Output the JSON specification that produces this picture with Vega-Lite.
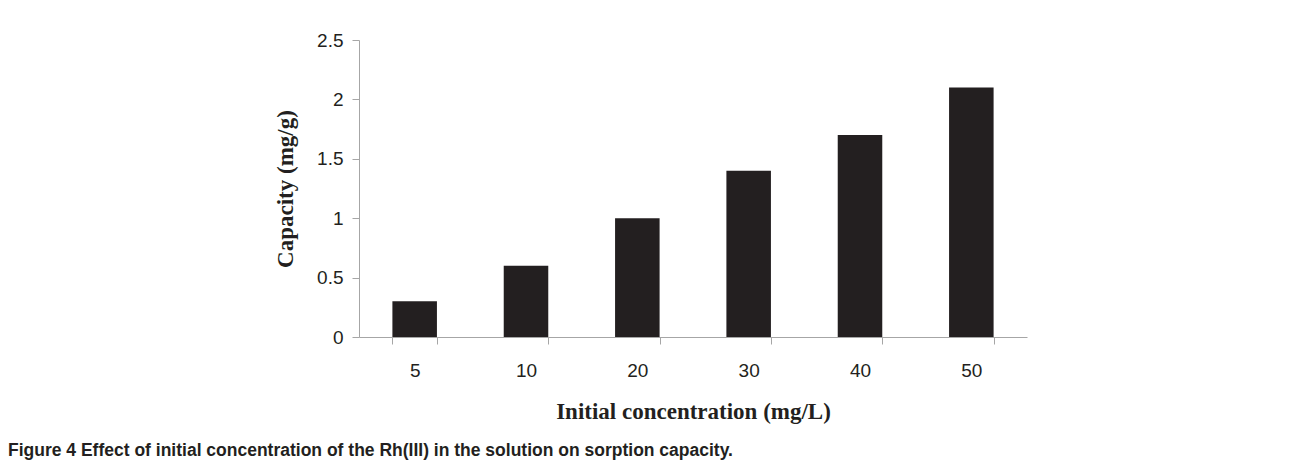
{
  "$schema": "https://vega.github.io/schema/vega-lite/v6.json",
  "autosize": {"type": "none"},
  "padding": {"left": 359, "top": 40, "right": 263, "bottom": 131},
  "width": 668,
  "height": 297,
  "background": "white",
  "data": {
    "values": [
      {"conc": "5", "capacity": 0.3},
      {"conc": "10", "capacity": 0.6},
      {"conc": "20", "capacity": 1.0},
      {"conc": "30", "capacity": 1.4},
      {"conc": "40", "capacity": 1.7},
      {"conc": "50", "capacity": 2.1}
    ]
  },
  "title": {
    "text": "Figure 4 Effect of initial concentration of the Rh(III) in the solution on sorption capacity.",
    "orient": "bottom",
    "anchor": "start",
    "frame": "group",
    "dx": -351,
    "offset": 19,
    "font": "Liberation Sans",
    "fontSize": 17.5,
    "fontWeight": "bold",
    "color": "#231f20"
  },
  "mark": {"type": "bar", "color": "#231f20"},
  "encoding": {
    "x": {
      "field": "conc",
      "type": "ordinal",
      "sort": null,
      "scale": {"paddingInner": 0.6, "paddingOuter": 0.3},
      "axis": {
        "title": "Initial concentration (mg/L)",
        "labelAngle": 0,
        "tickBand": "extent",
        "tickSize": 7,
        "labelPadding": 17,
        "titlePadding": 20,
        "domainColor": "#a6a6a6",
        "tickColor": "#a6a6a6",
        "labelColor": "#231f20",
        "labelFont": "Liberation Sans",
        "labelFontSize": 19,
        "titleFont": "Liberation Serif",
        "titleFontSize": 23,
        "titleFontWeight": "bold",
        "titleColor": "#231f20"
      }
    },
    "y": {
      "field": "capacity",
      "type": "quantitative",
      "scale": {"domain": [0, 2.5], "nice": false},
      "axis": {
        "title": "Capacity (mg/g)",
        "values": [0, 0.5, 1, 1.5, 2, 2.5],
        "format": ".1~f",
        "grid": false,
        "tickSize": 7,
        "labelPadding": 9,
        "titlePadding": 19,
        "domainColor": "#a6a6a6",
        "tickColor": "#a6a6a6",
        "labelColor": "#231f20",
        "labelFont": "Liberation Sans",
        "labelFontSize": 19,
        "titleFont": "Liberation Serif",
        "titleFontSize": 23,
        "titleFontWeight": "bold",
        "titleColor": "#231f20"
      }
    }
  },
  "config": {"view": {"stroke": null}}
}
